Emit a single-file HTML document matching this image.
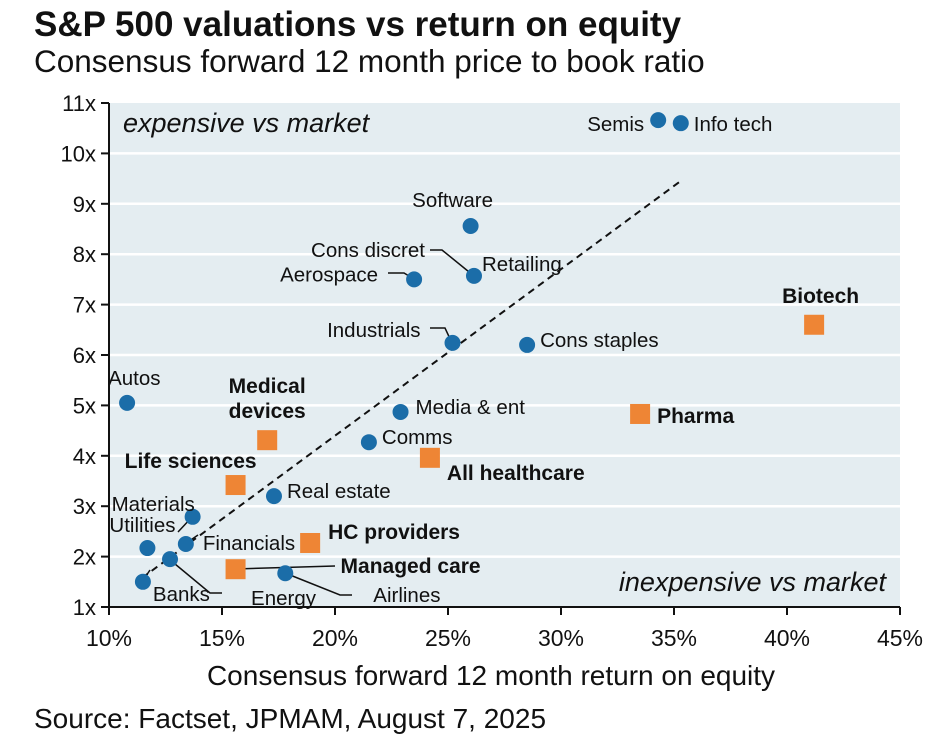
<!DOCTYPE html>
<html><head><meta charset="utf-8"><style>
body{margin:0;background:#fff;width:946px;height:738px;overflow:hidden;font-family:"Liberation Sans",sans-serif;}
svg text{font-family:"Liberation Sans",sans-serif;}
</style></head><body>
<svg id="c" width="946" height="738">
<text x="34" y="36" font-size="35" font-weight="bold" fill="#111">S&amp;P 500 valuations vs return on equity</text>
<text x="34" y="72" font-size="31.5" fill="#111">Consensus forward 12 month price to book ratio</text>
<rect x="109" y="103" width="791" height="504" fill="#e4edf1"/>
<g id="grid"></g>
<text x="123" y="132" font-size="27" font-style="italic" fill="#111">expensive vs market</text>
<text x="886" y="591" font-size="27" font-style="italic" fill="#111" text-anchor="end">inexpensive vs market</text>
<line x1="142" y1="578" x2="682" y2="180" stroke="#111" stroke-width="2" stroke-dasharray="7,5"/>
<g id="leaders" stroke="#111" stroke-width="1.5" fill="none">
<polyline points="430,250 442,250 474,276"/>
<polyline points="388,273 404,273 414,279"/>
<polyline points="430,328 445,328 452,343"/>
<polyline points="335,566 235,569"/>
<polyline points="169,559 210,593 222,593"/>
<polyline points="285,573 340,595 352,595"/>
<polyline points="185,544 198,535"/>
<polyline points="192,517 178,532"/>
<polyline points="142,582 150,570"/>
</g>
<g id="axes"></g>
<g id="marks"></g>
<text x="491" y="685" font-size="28" fill="#111" text-anchor="middle">Consensus forward 12 month return on equity</text>
<text x="34" y="728" font-size="28" fill="#111">Source: Factset, JPMAM, August 7, 2025</text>
</svg>
<script>
const names=["Semis","Info tech","Software","Retailing","Cons discret","Aerospace","Industrials","Cons staples","Autos","Media & ent","Comms","Real estate","Materials","Utilities","Financials","Banks","Energy","Airlines"];
const roe=[34.3,35.3,26.0,26.15,26.15,23.5,25.2,28.5,10.8,22.9,21.5,17.3,13.7,11.7,13.4,11.5,12.7,17.8];
const pb=[10.66,10.6,8.56,7.57,7.57,7.5,6.24,6.2,5.05,4.87,4.27,3.2,2.79,2.17,2.25,1.5,1.95,1.67];
const hcNames=["Biotech","Pharma","All healthcare","Medical devices","Life sciences","HC providers","Managed care"];
const hcRoe=[41.2,33.5,24.2,17.0,15.6,18.9,15.6];
const hcPb=[6.6,4.83,3.96,4.31,3.42,2.27,1.75];
const xTicks=[10,15,20,25,30,35,40,45];
const yTicks=[1,2,3,4,5,6,7,8,9,10,11];
const NS="http://www.w3.org/2000/svg";
const X=v=>109+(v-10)*22.6, Y=v=>607-(v-1)*50.4;
function mk(tag,attrs,parent,txt){const e=document.createElementNS(NS,tag);for(const k in attrs)e.setAttribute(k,attrs[k]);if(txt!=null)e.textContent=txt;document.getElementById(parent).appendChild(e);return e;}
yTicks.forEach(t=>{
 if(t>1&&t<11){const g=mk('line',{x1:109,x2:900,y1:Y(t),y2:Y(t),stroke:'#fff','stroke-width':2.5},'grid');
 
 }
 const tk=mk('line',{x1:101,x2:109,y1:Y(t),y2:Y(t),stroke:'#111','stroke-width':2},'axes');
 
 
 const l=mk('text',{x:96,y:Y(t)+8,'font-size':22,'text-anchor':'end',fill:'#111'},'axes',t+'x');
 
 
});
xTicks.forEach(t=>{
 const tk=mk('line',{x1:X(t),x2:X(t),y1:607,y2:615,stroke:'#111','stroke-width':2},'axes');
 
 
 const l=mk('text',{x:X(t),y:646,'font-size':23,'text-anchor':'middle',fill:'#111'},'axes',t+'%');
 
 
});
const ax=mk('path',{d:'M109,103 L109,607 L900,607',stroke:'#111','stroke-width':2,fill:'none'},'axes');


const lblOff=[[-14,11,'end'],[13,8,'start'],[-18,-19,'middle'],[8,-5,'start'],[-49,-19,'end'],[-36,2,'end'],[-32,-6,'end'],[13,2,'start'],[-19,-18,'start'],[15,2,'start'],[13,2,'start'],[13,2,'start'],[-81,-6,'start'],[-38,-16,'start'],[17,6,'start'],[10,19,'start'],[81,46,'start'],[88,29,'start']];
names.forEach((n,i)=>{
 const c=mk('circle',{cx:X(roe[i]),cy:Y(pb[i]),r:8,fill:'#1b6da8'},'marks');
 
 
 if(n==="Cons discret"){c.setAttribute('r',0);}
 const o=lblOff[i];
 const t=mk('text',{x:X(roe[i])+o[0],y:Y(pb[i])+o[1],'font-size':20.5,'text-anchor':o[2],fill:'#111'},'marks',n);
 
 
});
const hcOff=[[-32,-22,'start'],[17,9,'start'],[17,22,'start'],[0,0,'middle'],[21,-17,'end'],[18,-4,'start'],[105,4,'start']];
hcNames.forEach((n,i)=>{
 const s=mk('rect',{x:X(hcRoe[i])-10,y:Y(hcPb[i])-10,width:20,height:20,fill:'#ee8535'},'marks');
 
 
 const o=hcOff[i];
 const t=mk('text',{x:X(hcRoe[i])+o[0],y:Y(hcPb[i])+o[1],'font-size':21,'font-weight':'bold','text-anchor':o[2],fill:'#111'},'marks');
 
 
 if(n==="Medical devices"){
  t.setAttribute('y',Y(hcPb[i])-47);
  const a=document.createElementNS(NS,'tspan');a.setAttribute('x',X(hcRoe[i]));a.textContent='Medical';t.appendChild(a);
  const b=document.createElementNS(NS,'tspan');b.setAttribute('x',X(hcRoe[i]));b.setAttribute('dy',25);b.textContent='devices';t.appendChild(b);
 } else t.textContent=n;
});
</script>
</body></html>
